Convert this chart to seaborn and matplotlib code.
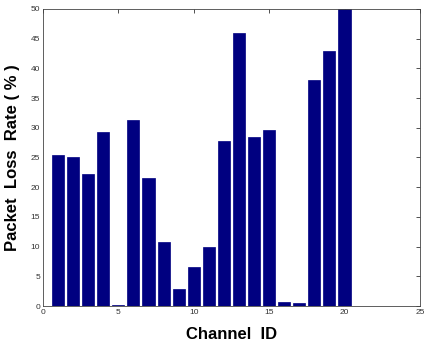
import pandas as pd
import matplotlib
matplotlib.use('Agg')
import matplotlib.pyplot as plt
import seaborn as sns

# Packet loss per channel
channel_ids = list(range(1, 21))
loss_rate = [25.4, 25.0, 22.3, 29.3, 0.1, 31.3, 21.6, 10.8, 2.9, 6.6,
             10.0, 27.8, 46.0, 28.5, 29.6, 0.6, 0.5, 38.0, 43.0, 50.0]

df = pd.DataFrame({'channel': channel_ids, 'loss': loss_rate})

sns.set_style('white')
plt.rcParams['font.family'] = ['Liberation Sans', 'DejaVu Sans']

fig = plt.figure(figsize=(4.25, 3.45), dpi=100)
ax = fig.add_axes([0.101, 0.113, 0.887, 0.861])

sns.barplot(data=df, x='channel', y='loss', native_scale=True, width=0.8,
            color='#000080', saturation=1, edgecolor='#000080', linewidth=0.5, ax=ax)

ax.set_xlim(0, 25)
ax.set_ylim(0, 50)
ax.set_xticks([0, 5, 10, 15, 20, 25])
ax.set_yticks(range(0, 51, 5))
ax.tick_params(direction='in', top=True, right=True, labelsize=6, length=3,
               width=0.6, colors='#333333', pad=2)
for s in ax.spines.values():
    s.set_linewidth(0.6)
    s.set_color('#444444')

ax.set_xlabel('Channel  ID', fontsize=12, fontweight='bold', labelpad=8, color='black')
ax.set_ylabel('Packet  Loss  Rate ( % )', fontsize=12, fontweight='bold', labelpad=8,
              color='black')

fig.savefig('out.png', dpi=100)
